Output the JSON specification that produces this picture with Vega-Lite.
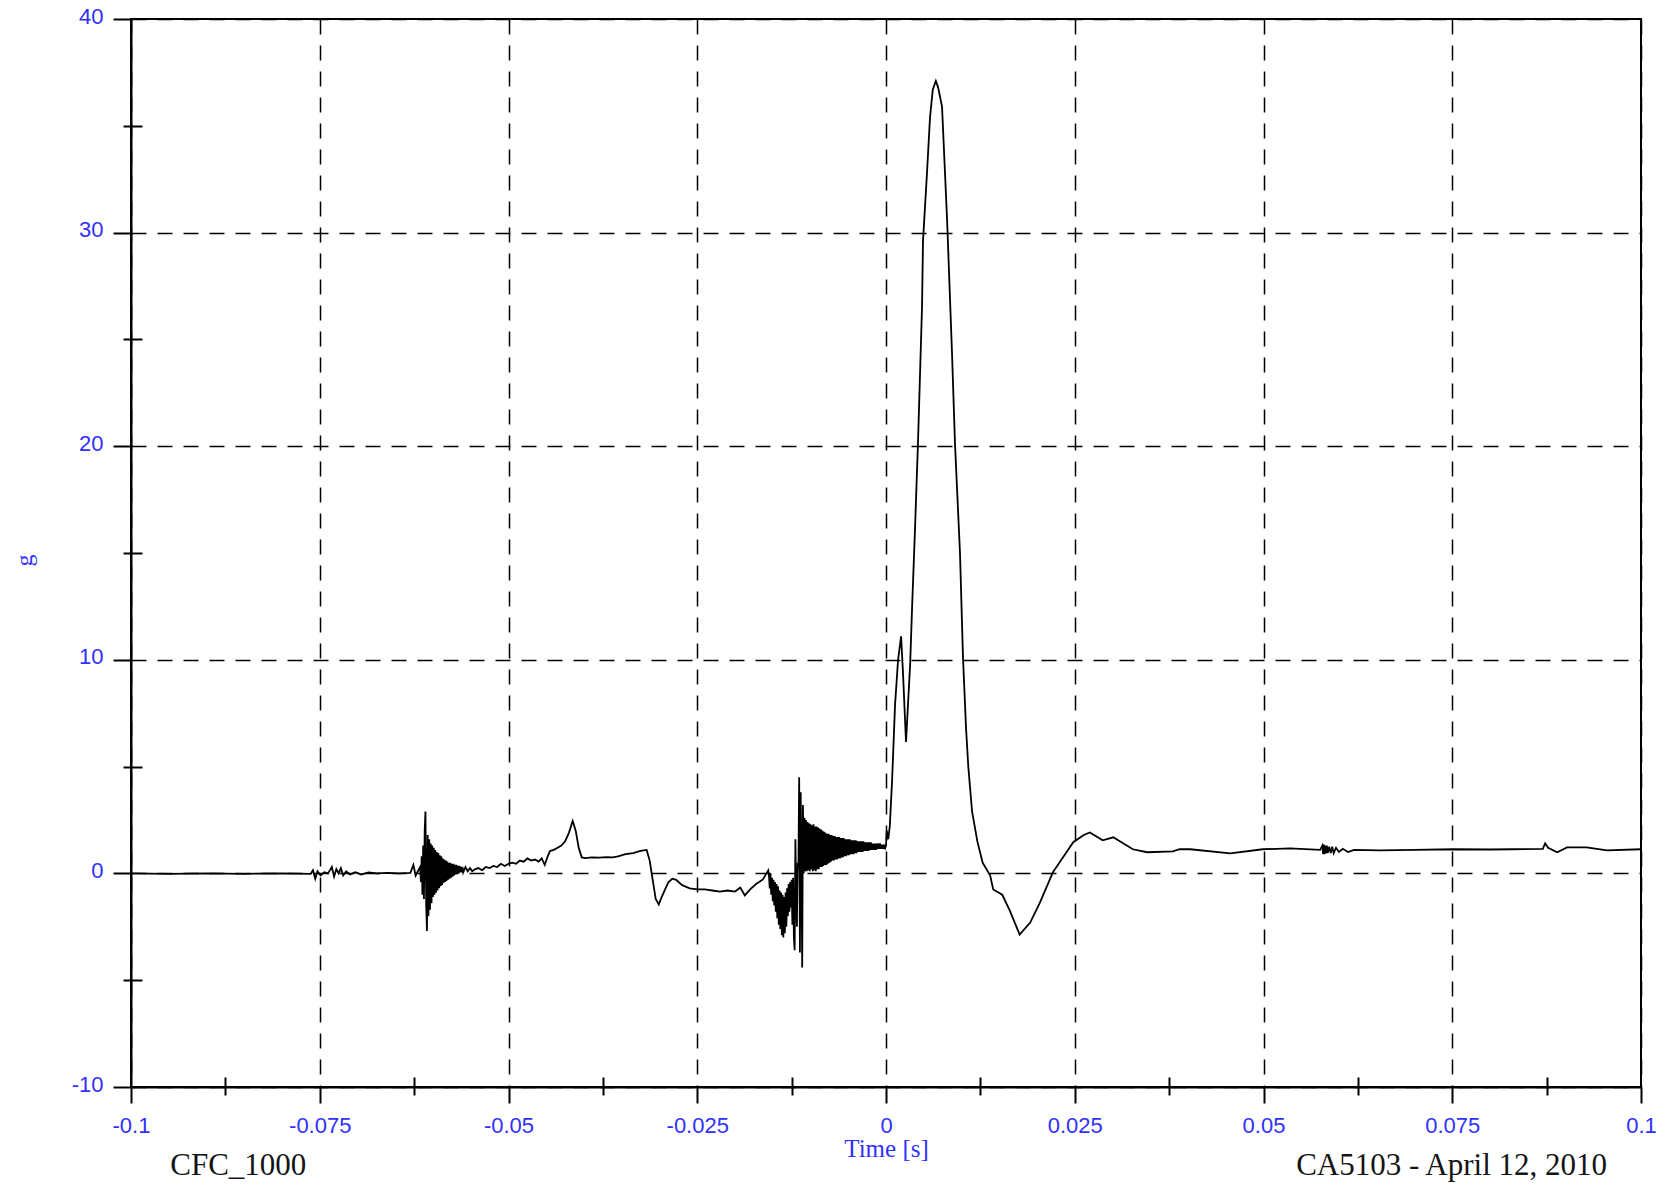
{
  "$schema": "https://vega.github.io/schema/vega-lite/v6.json",
  "width": 1510,
  "height": 1068,
  "autosize": {"type": "none"},
  "padding": {"left": 131, "top": 19, "right": 28, "bottom": 98},
  "background": "white",
  "config": {"view": {"stroke": "black", "strokeWidth": 2}, "font": "Liberation Sans"},
  "datasets": {
    "trace": [
      {"t": -0.1, "g": 0}, {"t": -0.095, "g": -0.02}, {"t": -0.09, "g": 0.0}, {"t": -0.085, "g": -0.02}, {"t": -0.08, "g": 0.0}, {"t": -0.0762, "g": -0.02},
      {"t": -0.0759, "g": 0.15}, {"t": -0.0756, "g": -0.25}, {"t": -0.0753, "g": 0.1}, {"t": -0.0749, "g": -0.1}, {"t": -0.0744, "g": 0.05}, {"t": -0.0739, "g": 0.0},
      {"t": -0.0734, "g": 0.3}, {"t": -0.0731, "g": -0.15}, {"t": -0.0728, "g": 0.2}, {"t": -0.0725, "g": 0.0}, {"t": -0.0722, "g": 0.25}, {"t": -0.0719, "g": -0.1},
      {"t": -0.0715, "g": 0.1}, {"t": -0.071, "g": -0.05}, {"t": -0.0703, "g": 0.05}, {"t": -0.0695, "g": -0.05}, {"t": -0.0685, "g": 0.05}, {"t": -0.0675, "g": 0.0},
      {"t": -0.066, "g": 0.02}, {"t": -0.0645, "g": 0.0}, {"t": -0.063, "g": 0.02}, {"t": -0.0626, "g": 0.4}, {"t": -0.0623, "g": -0.1}, {"t": -0.062, "g": 0.1},
      {"t": -0.0617, "g": 0.3}, {"t": -0.0616, "g": -0.4}, {"t": -0.0615, "g": 0.8}, {"t": -0.0614, "g": -1.0}, {"t": -0.0613, "g": 1.3}, {"t": -0.0612, "g": -1.2},
      {"t": -0.0611, "g": 2.0}, {"t": -0.061, "g": 2.9}, {"t": -0.0609, "g": -1.5}, {"t": -0.0608, "g": -2.7}, {"t": -0.0607, "g": 1.8}, {"t": -0.0606, "g": -2.0},
      {"t": -0.0605, "g": 1.6}, {"t": -0.0604, "g": -1.7}, {"t": -0.0603, "g": 1.4}, {"t": -0.0602, "g": -1.4}, {"t": -0.0601, "g": 1.3}, {"t": -0.06, "g": -1.1},
      {"t": -0.0599, "g": 1.2}, {"t": -0.0598, "g": -1.0}, {"t": -0.0597, "g": 1.1}, {"t": -0.0596, "g": -0.9}, {"t": -0.0595, "g": 1.0}, {"t": -0.0594, "g": -0.8},
      {"t": -0.0593, "g": 0.95}, {"t": -0.0592, "g": -0.7}, {"t": -0.0591, "g": 0.85}, {"t": -0.059, "g": -0.6}, {"t": -0.0589, "g": 0.8}, {"t": -0.0588, "g": -0.55},
      {"t": -0.0587, "g": 0.7}, {"t": -0.0586, "g": -0.45}, {"t": -0.0585, "g": 0.65}, {"t": -0.0584, "g": -0.4}, {"t": -0.0583, "g": 0.6}, {"t": -0.0582, "g": -0.35},
      {"t": -0.0581, "g": 0.55}, {"t": -0.058, "g": -0.3}, {"t": -0.0579, "g": 0.5}, {"t": -0.0578, "g": -0.25}, {"t": -0.0577, "g": 0.5}, {"t": -0.0576, "g": -0.2},
      {"t": -0.0575, "g": 0.45}, {"t": -0.0574, "g": -0.15}, {"t": -0.0573, "g": 0.45}, {"t": -0.0572, "g": -0.1}, {"t": -0.0571, "g": 0.4}, {"t": -0.057, "g": -0.05},
      {"t": -0.0569, "g": 0.4}, {"t": -0.0568, "g": 0.0}, {"t": -0.0567, "g": 0.35}, {"t": -0.0566, "g": 0.0}, {"t": -0.0565, "g": 0.35}, {"t": -0.0564, "g": 0.05},
      {"t": -0.0563, "g": 0.3}, {"t": -0.0562, "g": 0.05}, {"t": -0.0561, "g": 0.3}, {"t": -0.056, "g": 0.05}, {"t": -0.0557, "g": 0.3}, {"t": -0.0554, "g": 0.1},
      {"t": -0.0551, "g": 0.25}, {"t": -0.0548, "g": 0.1}, {"t": -0.0544, "g": 0.2}, {"t": -0.054, "g": 0.25}, {"t": -0.0535, "g": 0.15}, {"t": -0.053, "g": 0.3},
      {"t": -0.0525, "g": 0.25}, {"t": -0.052, "g": 0.35}, {"t": -0.0515, "g": 0.3}, {"t": -0.051, "g": 0.45}, {"t": -0.0505, "g": 0.35}, {"t": -0.05, "g": 0.45},
      {"t": -0.0495, "g": 0.5}, {"t": -0.049, "g": 0.45}, {"t": -0.0485, "g": 0.6}, {"t": -0.048, "g": 0.55}, {"t": -0.0475, "g": 0.7}, {"t": -0.047, "g": 0.6},
      {"t": -0.0465, "g": 0.65}, {"t": -0.046, "g": 0.55}, {"t": -0.0456, "g": 0.7}, {"t": -0.0452, "g": 0.4}, {"t": -0.0448, "g": 0.8}, {"t": -0.0445, "g": 1.05},
      {"t": -0.044, "g": 1.1}, {"t": -0.0435, "g": 1.2}, {"t": -0.043, "g": 1.3}, {"t": -0.0425, "g": 1.5}, {"t": -0.042, "g": 1.9}, {"t": -0.0415, "g": 2.45},
      {"t": -0.0411, "g": 2.0}, {"t": -0.0407, "g": 1.2}, {"t": -0.0403, "g": 0.75}, {"t": -0.0398, "g": 0.72}, {"t": -0.039, "g": 0.75}, {"t": -0.038, "g": 0.74},
      {"t": -0.037, "g": 0.76}, {"t": -0.0362, "g": 0.75}, {"t": -0.0355, "g": 0.8}, {"t": -0.0345, "g": 0.9}, {"t": -0.0335, "g": 0.95}, {"t": -0.0325, "g": 1.05},
      {"t": -0.0317, "g": 1.1}, {"t": -0.0313, "g": 0.6}, {"t": -0.0309, "g": -0.3}, {"t": -0.0305, "g": -1.2}, {"t": -0.0301, "g": -1.45}, {"t": -0.0297, "g": -1.1},
      {"t": -0.0292, "g": -0.7}, {"t": -0.0288, "g": -0.4}, {"t": -0.0283, "g": -0.25}, {"t": -0.0278, "g": -0.3}, {"t": -0.027, "g": -0.55}, {"t": -0.026, "g": -0.7},
      {"t": -0.025, "g": -0.75}, {"t": -0.024, "g": -0.75}, {"t": -0.023, "g": -0.8}, {"t": -0.022, "g": -0.85}, {"t": -0.021, "g": -0.8}, {"t": -0.02, "g": -0.85},
      {"t": -0.0193, "g": -0.66}, {"t": -0.0187, "g": -1.03}, {"t": -0.018, "g": -0.75}, {"t": -0.0172, "g": -0.5}, {"t": -0.0163, "g": -0.28}, {"t": -0.0156, "g": 0.14},
      {"t": -0.0155, "g": -0.1}, {"t": -0.0154, "g": -0.7}, {"t": -0.0153, "g": 0.0}, {"t": -0.0152, "g": -1.0}, {"t": -0.0151, "g": -0.2}, {"t": -0.015, "g": -1.3},
      {"t": -0.0149, "g": -0.3}, {"t": -0.0148, "g": -1.5}, {"t": -0.0147, "g": -0.4}, {"t": -0.0146, "g": -1.8}, {"t": -0.0145, "g": -0.5}, {"t": -0.0144, "g": -2.1},
      {"t": -0.0143, "g": -0.6}, {"t": -0.0142, "g": -2.4}, {"t": -0.0141, "g": -0.8}, {"t": -0.014, "g": -2.6}, {"t": -0.0139, "g": -0.9}, {"t": -0.0138, "g": -2.9},
      {"t": -0.0137, "g": -1.0}, {"t": -0.0136, "g": -3.0}, {"t": -0.0135, "g": -1.1}, {"t": -0.0134, "g": -2.8}, {"t": -0.0133, "g": -0.9}, {"t": -0.0132, "g": -2.5},
      {"t": -0.0131, "g": -0.7}, {"t": -0.013, "g": -2.0}, {"t": -0.0129, "g": -0.5}, {"t": -0.0128, "g": -1.8}, {"t": -0.0127, "g": -0.4}, {"t": -0.0126, "g": -1.6},
      {"t": -0.0125, "g": -0.3}, {"t": -0.0124, "g": -2.4}, {"t": -0.0123, "g": -0.2}, {"t": -0.0122, "g": -3.0}, {"t": -0.0121, "g": -3.6}, {"t": -0.012, "g": 1.6},
      {"t": -0.0119, "g": -1.0}, {"t": -0.0118, "g": -2.5}, {"t": -0.0117, "g": 0.5}, {"t": -0.0116, "g": 0.2}, {"t": -0.0115, "g": 4.5}, {"t": -0.0114, "g": -3.7},
      {"t": -0.0113, "g": 3.8}, {"t": -0.0112, "g": 0.5}, {"t": -0.0111, "g": -4.4}, {"t": -0.011, "g": 3.2}, {"t": -0.0109, "g": 0.0},
      {"t": -0.0108, "g": 2.6}, {"t": -0.0107, "g": 0.1}, {"t": -0.0106, "g": 2.5}, {"t": -0.0105, "g": 0.1}, {"t": -0.0104, "g": 2.4}, {"t": -0.0103, "g": 0.15},
      {"t": -0.0102, "g": 2.35}, {"t": -0.0101, "g": 0.1}, {"t": -0.01, "g": 2.3}, {"t": -0.0099, "g": 0.2}, {"t": -0.0098, "g": 2.25}, {"t": -0.0097, "g": 0.1},
      {"t": -0.0096, "g": 2.3}, {"t": -0.0095, "g": 0.15}, {"t": -0.0094, "g": 2.2}, {"t": -0.0093, "g": 0.1}, {"t": -0.0092, "g": 2.2}, {"t": -0.0091, "g": 0.2},
      {"t": -0.009, "g": 2.15}, {"t": -0.0089, "g": 0.2}, {"t": -0.0088, "g": 2.1}, {"t": -0.0087, "g": 0.3}, {"t": -0.0086, "g": 2.05}, {"t": -0.0085, "g": 0.3},
      {"t": -0.0084, "g": 2.0}, {"t": -0.0083, "g": 0.35}, {"t": -0.0082, "g": 1.95}, {"t": -0.0081, "g": 0.4}, {"t": -0.008, "g": 1.9}, {"t": -0.0079, "g": 0.4},
      {"t": -0.0078, "g": 1.85}, {"t": -0.0077, "g": 0.45}, {"t": -0.0076, "g": 1.85}, {"t": -0.0075, "g": 0.5}, {"t": -0.0074, "g": 1.8}, {"t": -0.0073, "g": 0.55},
      {"t": -0.0072, "g": 1.8}, {"t": -0.0071, "g": 0.6}, {"t": -0.007, "g": 1.75}, {"t": -0.0069, "g": 0.6}, {"t": -0.0068, "g": 1.75}, {"t": -0.0067, "g": 0.65},
      {"t": -0.0066, "g": 1.7}, {"t": -0.0065, "g": 0.65}, {"t": -0.0064, "g": 1.7}, {"t": -0.0063, "g": 0.7}, {"t": -0.0062, "g": 1.7}, {"t": -0.0061, "g": 0.7},
      {"t": -0.006, "g": 1.65}, {"t": -0.0059, "g": 0.75}, {"t": -0.0058, "g": 1.65}, {"t": -0.0057, "g": 0.75}, {"t": -0.0056, "g": 1.65}, {"t": -0.0055, "g": 0.8},
      {"t": -0.0054, "g": 1.6}, {"t": -0.0053, "g": 0.8}, {"t": -0.0052, "g": 1.6}, {"t": -0.0051, "g": 0.85}, {"t": -0.005, "g": 1.6}, {"t": -0.0049, "g": 0.85},
      {"t": -0.0048, "g": 1.6}, {"t": -0.0047, "g": 0.9}, {"t": -0.0046, "g": 1.55}, {"t": -0.0045, "g": 0.9}, {"t": -0.0044, "g": 1.55}, {"t": -0.0043, "g": 0.9},
      {"t": -0.0042, "g": 1.55}, {"t": -0.0041, "g": 0.95}, {"t": -0.004, "g": 1.55}, {"t": -0.0039, "g": 0.95}, {"t": -0.0038, "g": 1.5}, {"t": -0.0037, "g": 1.0},
      {"t": -0.0036, "g": 1.5}, {"t": -0.0035, "g": 1.0}, {"t": -0.0034, "g": 1.5}, {"t": -0.0033, "g": 1.0}, {"t": -0.0032, "g": 1.5}, {"t": -0.0031, "g": 1.0},
      {"t": -0.003, "g": 1.5}, {"t": -0.0029, "g": 1.05}, {"t": -0.0028, "g": 1.45}, {"t": -0.0027, "g": 1.05}, {"t": -0.0026, "g": 1.45}, {"t": -0.0025, "g": 1.05},
      {"t": -0.0024, "g": 1.45}, {"t": -0.0023, "g": 1.05}, {"t": -0.0022, "g": 1.45}, {"t": -0.0021, "g": 1.1}, {"t": -0.002, "g": 1.45}, {"t": -0.0019, "g": 1.1},
      {"t": -0.0018, "g": 1.4}, {"t": -0.0017, "g": 1.1}, {"t": -0.0016, "g": 1.4}, {"t": -0.0015, "g": 1.1}, {"t": -0.0014, "g": 1.4}, {"t": -0.0013, "g": 1.1},
      {"t": -0.0012, "g": 1.4}, {"t": -0.0011, "g": 1.15}, {"t": -0.001, "g": 1.4}, {"t": -0.0009, "g": 1.15}, {"t": -0.0008, "g": 1.4}, {"t": -0.0007, "g": 1.15},
      {"t": -0.0006, "g": 1.35}, {"t": -0.0005, "g": 1.15}, {"t": -0.0004, "g": 1.35}, {"t": -0.0003, "g": 1.15}, {"t": -0.0002, "g": 1.35}, {"t": -0.0001, "g": 1.2},
      {"t": 0.0, "g": 1.3}, {"t": 0.0001, "g": 2.0}, {"t": 0.0003, "g": 1.6}, {"t": 0.0005, "g": 2.2}, {"t": 0.0008, "g": 4.3}, {"t": 0.0012, "g": 7.9},
      {"t": 0.0016, "g": 10.0}, {"t": 0.002, "g": 11.1}, {"t": 0.00225, "g": 9.4}, {"t": 0.00265, "g": 6.15}, {"t": 0.0032, "g": 9.8}, {"t": 0.00344, "g": 12.3},
      {"t": 0.00384, "g": 16.1}, {"t": 0.00424, "g": 20.2}, {"t": 0.00477, "g": 26.5}, {"t": 0.0049, "g": 29.6}, {"t": 0.00543, "g": 32.8}, {"t": 0.00583, "g": 35.4},
      {"t": 0.0062, "g": 36.7}, {"t": 0.0066, "g": 37.1}, {"t": 0.0069, "g": 36.8}, {"t": 0.00742, "g": 35.9}, {"t": 0.00808, "g": 30.7}, {"t": 0.00874, "g": 24.4},
      {"t": 0.00914, "g": 20.1}, {"t": 0.0098, "g": 15.0}, {"t": 0.0102, "g": 10.1}, {"t": 0.0106, "g": 6.8}, {"t": 0.0109, "g": 5.0}, {"t": 0.0114, "g": 2.9},
      {"t": 0.0121, "g": 1.5}, {"t": 0.0128, "g": 0.5}, {"t": 0.0138, "g": -0.1}, {"t": 0.0142, "g": -0.75}, {"t": 0.0154, "g": -1.0}, {"t": 0.0164, "g": -1.74},
      {"t": 0.0177, "g": -2.86}, {"t": 0.0191, "g": -2.3}, {"t": 0.0204, "g": -1.36}, {"t": 0.0221, "g": 0.05}, {"t": 0.0248, "g": 1.46}, {"t": 0.0262, "g": 1.8},
      {"t": 0.027, "g": 1.92}, {"t": 0.0287, "g": 1.55}, {"t": 0.0301, "g": 1.69}, {"t": 0.0327, "g": 1.13}, {"t": 0.0346, "g": 0.99}, {"t": 0.038, "g": 1.03},
      {"t": 0.0389, "g": 1.13}, {"t": 0.0403, "g": 1.13}, {"t": 0.0456, "g": 0.94}, {"t": 0.0499, "g": 1.13}, {"t": 0.0535, "g": 1.17}, {"t": 0.0575, "g": 1.1},
      {"t": 0.0578, "g": 1.3}, {"t": 0.0579, "g": 0.9}, {"t": 0.058, "g": 1.35}, {"t": 0.0581, "g": 0.9}, {"t": 0.0582, "g": 1.3}, {"t": 0.0583, "g": 0.95},
      {"t": 0.0584, "g": 1.3}, {"t": 0.0585, "g": 0.95}, {"t": 0.0587, "g": 1.25}, {"t": 0.0589, "g": 0.95}, {"t": 0.0591, "g": 1.25}, {"t": 0.0593, "g": 0.95},
      {"t": 0.0596, "g": 1.2}, {"t": 0.06, "g": 1.0}, {"t": 0.0605, "g": 1.15}, {"t": 0.0612, "g": 1.0},
      {"t": 0.062, "g": 1.1}, {"t": 0.0654, "g": 1.08}, {"t": 0.07, "g": 1.1}, {"t": 0.0751, "g": 1.13}, {"t": 0.08, "g": 1.12}, {"t": 0.083, "g": 1.13},
      {"t": 0.087, "g": 1.15}, {"t": 0.0873, "g": 1.41}, {"t": 0.0877, "g": 1.2}, {"t": 0.0889, "g": 0.99}, {"t": 0.0902, "g": 1.22}, {"t": 0.0928, "g": 1.22},
      {"t": 0.0955, "g": 1.08}, {"t": 0.1, "g": 1.13}
    ]
  },
  "layer": [
    {
      "data": {"name": "trace"},
      "mark": {"type": "line", "color": "black", "strokeWidth": 1.8, "clip": true},
      "encoding": {
        "x": {
          "field": "t", "type": "quantitative",
          "scale": {"domain": [-0.1, 0.1], "nice": false, "zero": false},
          "axis": {
            "orient": "bottom",
            "values": [-0.1, -0.075, -0.05, -0.025, 0, 0.025, 0.05, 0.075, 0.1],
            "labelExpr": "'' + datum.value",
            "grid": true, "gridColor": "black", "gridDash": [15, 11], "gridWidth": 1.5, "gridOpacity": 1,
            "tickSize": 16, "tickColor": "black", "tickWidth": 2,
            "domainColor": "black", "domainWidth": 2,
            "labelFont": "Liberation Sans", "labelFontSize": 22, "labelColor": "#3030ff", "labelPadding": 12,
            "labelFlush": false, "labelOverlap": false,
            "title": "Time [s]", "titleFont": "Liberation Serif", "titleFontSize": 25, "titleFontWeight": "normal",
            "titleColor": "#3030ff", "titleY": 69, "titleBaseline": "alphabetic"
          }
        },
        "y": {
          "field": "g", "type": "quantitative",
          "scale": {"domain": [-10, 40], "nice": false, "zero": false},
          "axis": {
            "orient": "left",
            "values": [-10, 0, 10, 20, 30, 40],
            "labelExpr": "'' + datum.value",
            "grid": true, "gridColor": "black", "gridDash": [15, 11], "gridWidth": 1.5, "gridOpacity": 1,
            "tickSize": 18, "tickColor": "black", "tickWidth": 2,
            "domainColor": "black", "domainWidth": 2,
            "labelFont": "Liberation Sans", "labelFontSize": 22, "labelColor": "#3030ff", "labelPadding": 10, "labelOffset": -3,
            "labelFlush": false, "labelOverlap": false,
            "title": "g", "titleFont": "Liberation Serif", "titleFontSize": 24, "titleFontWeight": "normal",
            "titleColor": "#3030ff", "titleX": -107, "titleY": 541, "titleAngle": 270, "titleAlign": "center", "titleBaseline": "middle"
          }
        }
      }
    },
    {
      "data": {"values": [{"note": "CFC_1000"}]},
      "mark": {"type": "text", "align": "left", "baseline": "alphabetic", "font": "Liberation Serif", "fontSize": 31, "color": "#141414"},
      "encoding": {
        "text": {"field": "note"},
        "x": {
          "datum": -0.0948, "type": "quantitative",
          "scale": {"domain": [-0.1, 0.1], "nice": false, "zero": false},
          "axis": {"orient": "bottom", "values": [-0.0875, -0.0625, -0.0375, -0.0125, 0.0125, 0.0375, 0.0625, 0.0875],
                   "tickSize": 8, "tickWidth": 2, "tickColor": "black", "labels": false, "grid": false, "domain": false, "title": null}
        },
        "y": {
          "datum": -14.1, "type": "quantitative",
          "scale": {"domain": [-10, 40], "nice": false, "zero": false},
          "axis": {"orient": "left", "values": [-5, 5, 15, 25, 35],
                   "tickSize": 8, "tickWidth": 2, "tickColor": "black", "labels": false, "grid": false, "domain": false, "title": null}
        }
      }
    },
    {
      "data": {"values": [{"note": "CA5103 - April 12, 2010"}]},
      "mark": {"type": "text", "align": "right", "baseline": "alphabetic", "font": "Liberation Serif", "fontSize": 31, "color": "#141414"},
      "encoding": {
        "text": {"field": "note"},
        "x": {
          "datum": 0.0955, "type": "quantitative",
          "scale": {"domain": [-0.1, 0.1], "nice": false, "zero": false},
          "axis": {"orient": "bottom", "values": [-0.0875, -0.0625, -0.0375, -0.0125, 0.0125, 0.0375, 0.0625, 0.0875],
                   "tickSize": -10, "tickWidth": 2, "tickColor": "black", "labels": false, "grid": false, "domain": false, "title": null}
        },
        "y": {
          "datum": -14.1, "type": "quantitative",
          "scale": {"domain": [-10, 40], "nice": false, "zero": false},
          "axis": {"orient": "left", "values": [-5, 5, 15, 25, 35],
                   "tickSize": -11, "tickWidth": 2, "tickColor": "black", "labels": false, "grid": false, "domain": false, "title": null}
        }
      }
    }
  ],
  "resolve": {"axis": {"x": "independent", "y": "independent"}}
}
